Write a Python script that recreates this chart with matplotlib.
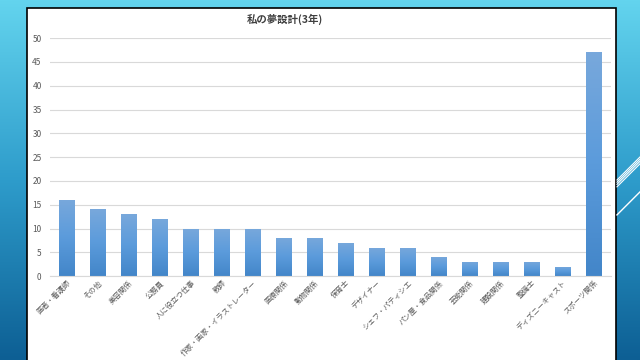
import numpy as np
import matplotlib.pyplot as plt
from matplotlib.colors import LinearSegmentedColormap
from matplotlib.patches import Rectangle

plt.rcParams['font.family'] = ['Noto Sans CJK JP', 'DejaVu Sans']

title = '私の夢設計(3年)'
jobs = ['医者・看護師', 'その他', '美容関係', '公務員', '人に役立つ仕事', '教師',
        '作家・画家・イラストレーター', '医療関係', '動物関係', '保育士', 'デザイナー',
        'シェフ・パティシエ', 'パン屋・食品関係', '芸能関係', '建設関係', '整備士',
        'ディズニーキャスト', 'スポーツ関係']
counts = [16, 14, 13, 12, 10, 10, 10, 8, 8, 7, 6, 6, 4, 3, 3, 3, 2, 47]
yticks = [0, 5, 10, 15, 20, 25, 30, 35, 40, 45, 50]

fig = plt.figure(figsize=(6.4, 3.6), dpi=100)

# slide background
bg = fig.add_axes([0, 0, 1, 1], zorder=-10)
bg_cmap = LinearSegmentedColormap.from_list('bg', ['#63d4ee', '#2e9ccb', '#0d5f94'])
bg.imshow(np.linspace(0, 1, 256).reshape(-1, 1), aspect='auto', cmap=bg_cmap,
          extent=[0, 1, 0, 1], origin='upper')
for off in [0.0, 0.007, 0.013, 0.019]:
    bg.plot([0.964, 1.0], [0.481 + off, 0.545 + off], color='white', lw=0.8)
bg.plot([0.964, 1.0], [0.403, 0.467], color='white', lw=1.0)
bg.add_patch(Rectangle((0.042, -0.01), 0.921, 0.988, facecolor='white',
                       edgecolor='black', lw=1.2))
bg.set_xlim(0, 1)
bg.set_ylim(0, 1)
bg.axis('off')

ax = fig.add_axes([0.078, 0.233, 0.876, 0.661])
x = np.arange(len(jobs))
bars = ax.bar(x, counts, width=0.51, color='none', zorder=2)
bar_cmap = LinearSegmentedColormap.from_list('bar', ['#4386c9', '#5b9bdb', '#78a8dc'])
for b in bars:
    x0 = b.get_x()
    im = ax.imshow(np.linspace(0, 1, 100).reshape(-1, 1), aspect='auto', cmap=bar_cmap,
                   extent=[x0, x0 + b.get_width(), 0, b.get_height()], origin='lower',
                   zorder=2)
    im.set_clip_path(b)

ax.set_xlim(-0.55, len(jobs) - 0.45)
ax.set_ylim(0, 50)
ax.set_yticks(yticks)
ax.set_xticks(x)
ax.set_xticklabels(jobs, rotation=45, ha='right', rotation_mode='anchor',
                   fontsize=5.3, color='#595959')
ax.tick_params(axis='y', labelsize=6, colors='#595959', length=0, pad=6)
ax.tick_params(axis='x', length=0, pad=2)
ax.grid(axis='y', color='#d9d9d9', lw=0.8, zorder=0)
ax.set_axisbelow(True)
for s in ['top', 'right', 'left']:
    ax.spines[s].set_visible(False)
ax.spines['bottom'].set_color('#d9d9d9')
fig.text(0.445, 0.947, title, fontsize=7.5, fontweight='bold', color='#404040',
         ha='center', va='center')

fig.savefig('out.png', dpi=100)
